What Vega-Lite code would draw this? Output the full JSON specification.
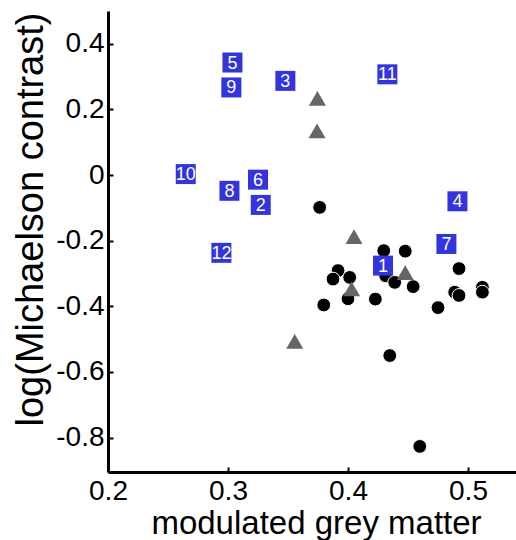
{
  "$schema": "https://vega.github.io/schema/vega-lite/v6.json",
  "width": 408,
  "height": 461,
  "autosize": "none",
  "padding": {"left": 108, "top": 11, "right": 0, "bottom": 68},
  "background": "white",
  "config": {
    "view": {"stroke": null},
    "axis": {
      "grid": false,
      "domainColor": "black",
      "domainWidth": 3,
      "tickColor": "black",
      "tickWidth": 2,
      "tickSize": -5,
      "labelFont": "Liberation Sans",
      "labelFontSize": 28,
      "labelColor": "black",
      "labelFlush": false,
      "labelOverlap": false,
      "titleFont": "Liberation Sans",
      "titleFontWeight": "normal",
      "titleColor": "black"
    }
  },
  "data": {
    "values": [
      {"x": 0.3764, "y": -0.0986, "group": "circle", "label": ""},
      {"x": 0.4298, "y": -0.2304, "group": "circle", "label": ""},
      {"x": 0.4477, "y": -0.232, "group": "circle", "label": ""},
      {"x": 0.4925, "y": -0.285, "group": "circle", "label": ""},
      {"x": 0.3917, "y": -0.291, "group": "circle", "label": ""},
      {"x": 0.3875, "y": -0.317, "group": "circle", "label": ""},
      {"x": 0.4014, "y": -0.312, "group": "circle", "label": ""},
      {"x": 0.4314, "y": -0.307, "group": "circle", "label": ""},
      {"x": 0.4389, "y": -0.327, "group": "circle", "label": ""},
      {"x": 0.4543, "y": -0.34, "group": "circle", "label": ""},
      {"x": 0.4, "y": -0.377, "group": "circle", "label": ""},
      {"x": 0.4228, "y": -0.378, "group": "circle", "label": ""},
      {"x": 0.3798, "y": -0.396, "group": "circle", "label": ""},
      {"x": 0.475, "y": -0.404, "group": "circle", "label": ""},
      {"x": 0.4889, "y": -0.357, "group": "circle", "label": ""},
      {"x": 0.4925, "y": -0.367, "group": "circle", "label": ""},
      {"x": 0.512, "y": -0.342, "group": "circle", "label": ""},
      {"x": 0.512, "y": -0.357, "group": "circle", "label": ""},
      {"x": 0.4348, "y": -0.55, "group": "circle", "label": ""},
      {"x": 0.4598, "y": -0.827, "group": "circle", "label": ""},
      {"x": 0.3745, "y": 0.234, "group": "triangle", "label": ""},
      {"x": 0.3742, "y": 0.135, "group": "triangle", "label": ""},
      {"x": 0.405, "y": -0.188, "group": "triangle", "label": ""},
      {"x": 0.4477, "y": -0.297, "group": "triangle", "label": ""},
      {"x": 0.403, "y": -0.347, "group": "triangle", "label": ""},
      {"x": 0.3556, "y": -0.507, "group": "triangle", "label": ""},
      {"x": 0.3037, "y": 0.343, "group": "square", "label": "5"},
      {"x": 0.3028, "y": 0.267, "group": "square", "label": "9"},
      {"x": 0.3478, "y": 0.287, "group": "square", "label": "3"},
      {"x": 0.2648, "y": 0.003, "group": "square", "label": "10"},
      {"x": 0.325, "y": -0.014, "group": "square", "label": "6"},
      {"x": 0.3012, "y": -0.048, "group": "square", "label": "8"},
      {"x": 0.3273, "y": -0.091, "group": "square", "label": "2"},
      {"x": 0.2945, "y": -0.237, "group": "square", "label": "12"},
      {"x": 0.4328, "y": 0.307, "group": "square", "label": "11"},
      {"x": 0.4912, "y": -0.08, "group": "square", "label": "4"},
      {"x": 0.482, "y": -0.21, "group": "square", "label": "7"},
      {"x": 0.4292, "y": -0.276, "group": "square", "label": "1"}
    ]
  },
  "encoding": {
    "x": {
      "field": "x",
      "type": "quantitative",
      "scale": {"domain": [0.2, 0.54], "nice": false, "zero": false},
      "axis": {
        "values": [0.2, 0.3, 0.4, 0.5],
        "format": ".1f",
        "labelPadding": 10,
        "title": "modulated grey matter",
        "titleFontSize": 33,
        "titleBaseline": "alphabetic",
        "titleX": 208,
        "titleY": 61
      }
    },
    "y": {
      "field": "y",
      "type": "quantitative",
      "scale": {"domain": [-0.905, 0.5], "nice": false, "zero": false},
      "axis": {
        "values": [-0.8, -0.6, -0.4, -0.2, 0, 0.2, 0.4],
        "labelExpr": "replace(format(datum.value, '~g'), '\u2212', '-')",
        "labelPadding": 9,
        "title": "log(Michaelson contrast)",
        "titleFontSize": 38,
        "titleBaseline": "alphabetic",
        "titleX": -66,
        "titleY": 208
      }
    }
  },
  "layer": [
    {
      "transform": [{"filter": "datum.group === 'circle'"}],
      "mark": {"type": "circle", "size": 190, "color": "black", "opacity": 1, "stroke": "white", "strokeWidth": 1}
    },
    {
      "transform": [{"filter": "datum.group === 'triangle'"}],
      "mark": {"type": "point", "shape": "triangle-up", "filled": true, "size": 290, "color": "#666666", "opacity": 1}
    },
    {
      "transform": [{"filter": "datum.group === 'square'"}],
      "mark": {"type": "square", "size": 400, "color": "#3434dc", "opacity": 1}
    },
    {
      "transform": [{"filter": "datum.group === 'square'"}],
      "mark": {"type": "text", "font": "Liberation Sans", "fontSize": 18, "color": "white", "baseline": "middle", "align": "center", "dy": 1},
      "encoding": {"text": {"field": "label"}}
    }
  ]
}
